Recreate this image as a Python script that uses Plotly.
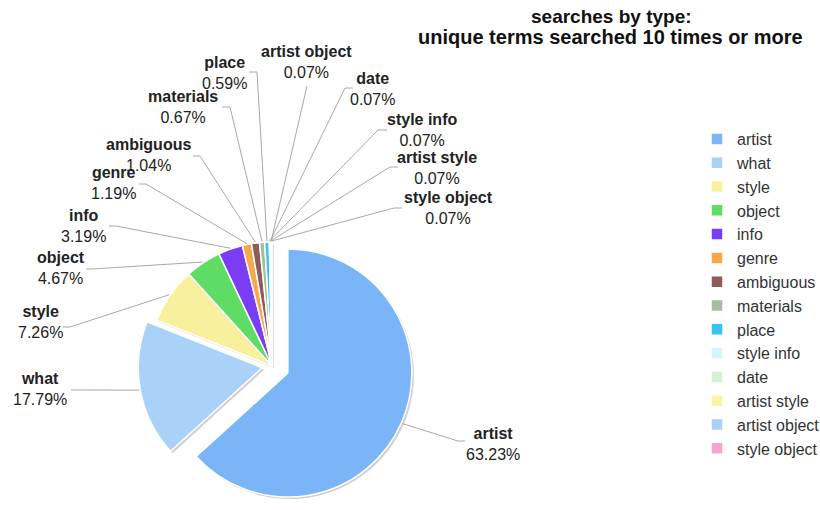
import math
import plotly.graph_objects as go

# Search categories and their share of unique terms (percent)
labels = ["artist", "what", "style", "object", "info", "genre", "ambiguous",
          "materials", "place", "style info", "date", "artist style",
          "artist object", "style object"]
shares = [63.23, 17.79, 7.26, 4.67, 3.19, 1.19, 1.04,
          0.67, 0.59, 0.07, 0.07, 0.07, 0.07, 0.07]
colors = ["#79b5f7", "#a9d2f9", "#f9f09d", "#5edc63", "#7b3cf5", "#f7a84c",
          "#8e5b5b", "#a6bda0", "#35c5f0", "#d5f4fc", "#d4f3d6", "#fcf4a5",
          "#aad0f7", "#f5a5cb"]
pulls = [0.14, 0.08, 0, 0, 0, 0, 0, 0, 0, 0, 0, 0, 0, 0]

W, H = 820, 510
FONT = "Liberation Sans, Arial, Helvetica, sans-serif"

# pie placement in pixels (domain square centred on CX, CY)
R = 124
CX, CY = 272, 366
HALF = R * (1 + max(pulls))


def fx(x):
    return x / W


def fy(y):
    return 1 - y / H


def domain(dx=0, dy=0):
    return dict(x=[fx(CX - HALF + dx), fx(CX + HALF + dx)],
                y=[max(0.0, fy(CY + HALF + dy)), fy(CY - HALF + dy)])


# callout layout: label centre, elbow point, stub end (pixels)
callouts = {
    "artist":        ((493, 444), (458, 441), (465, 441)),
    "what":          ((40, 389), (78, 390), (71, 390)),
    "style":         ((40, 322), (70, 327), (63, 327)),
    "object":        ((61, 268), (92, 269), (86, 269)),
    "info":          ((83, 226), (116, 226), (109, 226)),
    "genre":         ((113, 183), (146, 184), (139, 184)),
    "ambiguous":     ((148, 155), (200, 156), (193, 156)),
    "materials":     ((183, 107), (230, 107), (222, 107)),
    "place":         ((224, 73), (257, 72), (249, 72)),
    "artist object": ((306, 62), (307, 86), (307, 86)),
    "date":          ((372, 89), (345, 88), (353, 88)),
    "style info":    ((422, 130), (378, 130), (387, 130)),
    "artist style":  ((437, 168), (390, 167), (398, 167)),
    "style object":  ((448, 208), (394, 208), (402, 208)),
}

total = sum(shares)

fig = go.Figure()

# soft drop shadow under the pie
fig.add_trace(go.Pie(
    labels=labels, values=shares, sort=False, direction="clockwise",
    rotation=0, pull=pulls, domain=domain(2, 2), textinfo="none",
    marker=dict(colors=["#d0d0d0"] * len(labels), line=dict(width=0)),
    showlegend=False, hoverinfo="skip",
))

fig.add_trace(go.Pie(
    labels=labels, values=shares, sort=False, direction="clockwise",
    rotation=0, pull=pulls, domain=domain(), textinfo="none",
    marker=dict(colors=colors, line=dict(color="white", width=1.5)),
    showlegend=True,
))

shapes = []
annotations = []
cum = 0.0
for name, v, p in zip(labels, shares, pulls):
    mid = (cum + v / 2) / total * 2 * math.pi
    cum += v
    sx, sy = math.sin(mid), -math.cos(mid)
    ax = CX + p * R * sx
    ay = CY + p * R * sy
    ex, ey = ax + (R + 1) * sx, ay + (R + 1) * sy
    (lx, ly), (kx, ky), (tx, ty) = callouts[name]
    path = f"M{fx(ex)},{fy(ey)} L{fx(kx)},{fy(ky)} L{fx(tx)},{fy(ty)}"
    shapes.append(dict(type="path", xref="paper", yref="paper", path=path,
                       line=dict(color="#a8a8a8", width=1)))
    annotations.append(dict(
        x=fx(lx), y=fy(ly), xref="paper", yref="paper",
        text=f"<b>{name}</b><br>{v:.2f}%", showarrow=False,
        xanchor="center", yanchor="middle", align="center",
        font=dict(family=FONT, size=16, color="#222222"),
    ))

annotations.append(dict(
    x=fx(611), y=fy(17), xref="paper", yref="paper",
    text="<b>searches by type:</b>", showarrow=False,
    xanchor="center", yanchor="middle",
    font=dict(family=FONT, size=19, color="#111111"),
))
annotations.append(dict(
    x=fx(610), y=fy(37), xref="paper", yref="paper",
    text="<b>unique terms searched 10 times or more</b>", showarrow=False,
    xanchor="center", yanchor="middle",
    font=dict(family=FONT, size=20, color="#111111"),
))

fig.update_layout(
    width=W, height=H,
    margin=dict(l=0, r=0, t=0, b=0, autoexpand=False),
    paper_bgcolor="white", plot_bgcolor="white",
    shapes=shapes, annotations=annotations,
    legend=dict(x=fx(697), y=fy(122), xanchor="left", yanchor="top",
                font=dict(family=FONT, size=16, color="#333333"),
                bgcolor="rgba(0,0,0,0)", traceorder="normal"),
    font=dict(family=FONT),
)

fig.write_html("out.html")
